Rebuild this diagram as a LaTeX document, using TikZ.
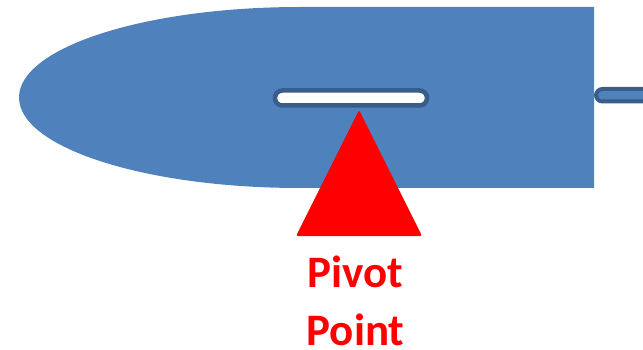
\documentclass[tikz,border=0pt]{standalone}
\usepackage{fontspec}
\setmainfont{Carlito}
\definecolor{bodyblue}{HTML}{4F81BD}
\definecolor{edgeblue}{HTML}{385D8A}
\tikzset{
  slotbox/.style={draw=edgeblue,line width=4.5pt,fill=white,rounded corners=7.4pt},
  rodbox/.style={draw=edgeblue,line width=4pt,fill=bodyblue},
  pivotlabel/.style={text=red,font=\fontsize{45}{59}\selectfont\bfseries,anchor=base,inner sep=0pt}
}
\begin{document}
\begin{tikzpicture}[x=1pt,y=-1pt]
\useasboundingbox (0,0) rectangle (643,350);
% body: half ellipse + rectangle
\fill[bodyblue] (300,7) arc[start angle=-90,end angle=-270,x radius=281,y radius=90.5] -- (594,188) -- (594,7) -- cycle;
% slot
\draw[slotbox] (275,90.5) rectangle (427,105.5);
\node[coordinate] (slot) at (351,98) {};
% rod
\draw[rodbox,rounded corners=6.5pt] (650,89) -- (596,89) -- (596,101.5) -- (650,101.5);
\node[coordinate] (rod) at (620,95) {};
% triangle
\fill[red,rounded corners=2pt] (359,110) -- (422,236) -- (296,236) -- cycle;
\node[coordinate] (pivot) at (359,110) {};
% labels
\node[pivotlabel] (l1) at (355,287) {Pivot};
\node[pivotlabel] (l2) at (355.5,345.5) {Point};
\end{tikzpicture}
\end{document}
